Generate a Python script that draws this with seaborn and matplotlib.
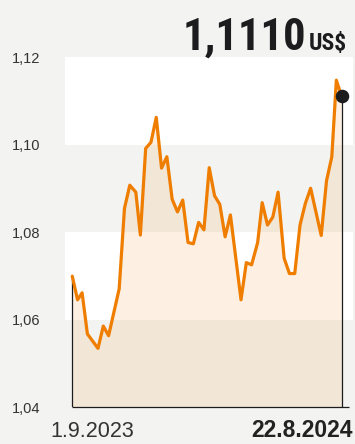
import matplotlib
matplotlib.use("Agg")
import matplotlib.pyplot as plt
import seaborn as sns
import pandas as pd

# ---- data ----
dates = [
    "2023-09-01", "2023-09-08", "2023-09-14", "2023-09-21", "2023-10-05",
    "2023-10-12", "2023-10-19", "2023-11-02", "2023-11-09", "2023-11-16",
    "2023-11-24", "2023-11-30", "2023-12-07", "2023-12-14", "2023-12-21",
    "2023-12-28", "2024-01-04", "2024-01-11", "2024-01-18", "2024-01-25",
    "2024-02-01", "2024-02-08", "2024-02-15", "2024-02-22", "2024-02-29",
    "2024-03-07", "2024-03-14", "2024-03-21", "2024-03-28", "2024-04-11",
    "2024-04-18", "2024-04-25", "2024-05-03", "2024-05-09", "2024-05-16",
    "2024-05-23", "2024-05-30", "2024-06-07", "2024-06-14", "2024-06-21",
    "2024-06-28", "2024-07-05", "2024-07-12", "2024-07-26", "2024-08-02",
    "2024-08-09", "2024-08-15", "2024-08-22",
]
rates = [
    1.0699, 1.0645, 1.0661, 1.0567, 1.0534,
    1.0585, 1.0563, 1.0670, 1.0854, 1.0907,
    1.0891, 1.0793, 1.0991, 1.1005, 1.1062,
    1.0946, 1.0972, 1.0875, 1.0846, 1.0873,
    1.0776, 1.0773, 1.0822, 1.0805, 1.0947,
    1.0883, 1.0863, 1.0789, 1.0839, 1.0645,
    1.0730, 1.0725, 1.0776, 1.0867, 1.0816,
    1.0834, 1.0891, 1.0740, 1.0705, 1.0705,
    1.0816, 1.0865, 1.0900, 1.0792, 1.0917,
    1.0972, 1.1147, 1.1110,
]
y_ticks = [1.04, 1.06, 1.08, 1.10, 1.12]
y_tick_labels = ["1,04", "1,06", "1,08", "1,10", "1,12"]
white_bands = [(1.06, 1.08), (1.10, 1.12)]
start_label = "1.9.2023"
end_label = "22.8.2024"
headline_value = "1,1110"
headline_unit = "US$"

# ---- style ----
sns.set_theme(style="white")
plt.rcParams["font.family"] = ["Liberation Sans", "DejaVu Sans"]

BG = "#f3f3f1"
ORANGE = "#ef7d00"
INK = "#1c1c1e"
W, H = 355, 444
HEAD_FONT = ["Roboto Condensed", "Roboto", "DejaVu Sans"]

df = pd.DataFrame({"date": pd.to_datetime(dates), "rate": rates})

fig = plt.figure(figsize=(W / 100, H / 100), dpi=100, facecolor=BG)
ax = fig.add_axes([65 / W, 37 / H, 288 / W, 350 / H])
ax.set_facecolor(BG)

for lo, hi in white_bands:
    ax.axhspan(lo, hi, color="white", lw=0, zorder=0)

ax.fill_between(df["date"], df["rate"], y_ticks[0], color=ORANGE,
                alpha=0.11, lw=0, zorder=1)
sns.lineplot(data=df, x="date", y="rate", ax=ax, color=ORANGE,
             lw=2.3, zorder=3)

first_d, last_d = df["date"].iloc[0], df["date"].iloc[-1]
first_v, last_v = df["rate"].iloc[0], df["rate"].iloc[-1]

ax.vlines(first_d, y_ticks[0], first_v, color=INK, lw=0.9, zorder=2)
ax.vlines(last_d, y_ticks[0], last_v, color=INK, lw=0.9, zorder=4)
ax.hlines(y_ticks[0], first_d, last_d + pd.Timedelta(days=10),
          color=INK, lw=0.9, zorder=4, clip_on=False)
ax.scatter([last_d], [last_v], s=95, color=INK, zorder=5, lw=0)

ax.set_xlim(first_d - pd.Timedelta(days=9.6), last_d + pd.Timedelta(days=15))
ax.set_ylim(y_ticks[0], y_ticks[-1])
ax.set_yticks(y_ticks)
ax.set_yticklabels(y_tick_labels)
ax.set_xticks([])
ax.set_xlabel("")
ax.set_ylabel("")
ax.tick_params(axis="y", length=0, pad=18, labelsize=10.5,
               labelcolor="#333333")
for s in ax.spines.values():
    s.set_visible(False)

# date labels
fig.text(50 / W, (H - 437) / H, start_label, ha="left", va="baseline",
         fontsize=15.5, color="#333333")
fig.text(353 / W, (H - 437) / H, end_label, ha="right", va="baseline",
         fontsize=16.5, fontweight="bold", color="#222222")

# headline
fig.text(306 / W, (H - 50) / H, headline_value, ha="right", va="baseline",
         fontsize=32, fontweight="bold", color=INK, family=HEAD_FONT)
fig.text(309 / W, (H - 50) / H, headline_unit, ha="left", va="baseline",
         fontsize=17, fontweight="bold", color=INK, family=HEAD_FONT)

fig.savefig("out.png", dpi=100, facecolor=BG)
